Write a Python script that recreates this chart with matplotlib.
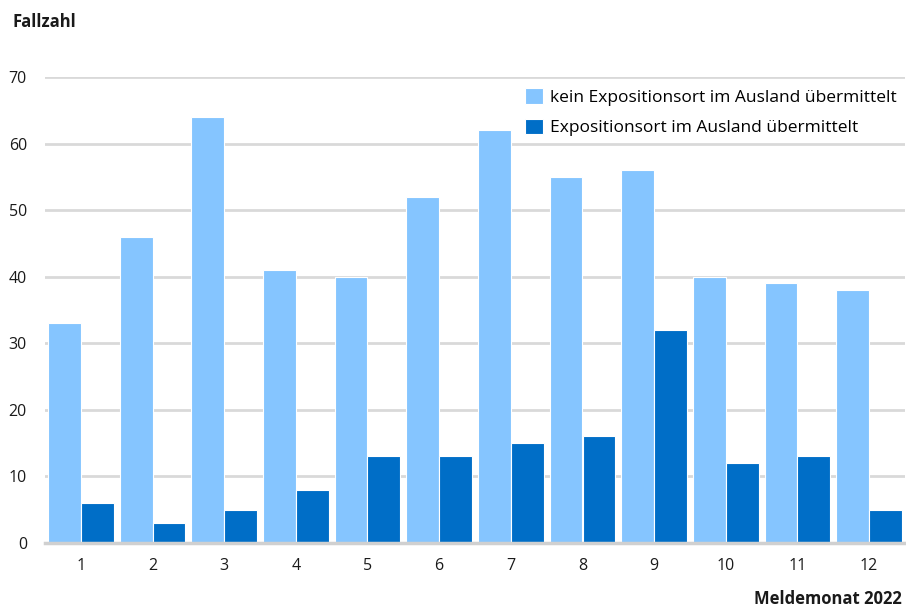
import numpy as np
import matplotlib.pyplot as plt

plt.rcParams['font.family'] = ['Open Sans', 'DejaVu Sans']

# Daten
monate = ['1', '2', '3', '4', '5', '6', '7', '8', '9', '10', '11', '12']
kein_ausland = [33, 46, 64, 41, 40, 52, 62, 55, 56, 40, 39, 38]
ausland = [6, 3, 5, 8, 13, 13, 15, 16, 32, 12, 13, 5]

hell = '#85C5FF'
dunkel = '#006EC7'

fig = plt.figure(figsize=(9.06, 6.10), dpi=100)
ax = fig.add_axes([45 / 906, 67 / 610, 860 / 906, 466 / 610])

x = np.arange(len(monate))
w = 0.46
ax.bar(x - w / 2, kein_ausland, w, color=hell, edgecolor='white', linewidth=0.8,
       label='kein Expositionsort im Ausland übermittelt', zorder=3)
ax.bar(x + w / 2, ausland, w, color=dunkel, edgecolor='white', linewidth=0.8,
       label='Expositionsort im Ausland übermittelt', zorder=3)

ax.set_xlim(-0.5, len(monate) - 0.5)
ax.set_ylim(0, 70)
ax.set_yticks(range(0, 71, 10))
ax.set_xticks(x)
ax.set_xticklabels(monate)

ax.grid(axis='y', color='#d9d9d9', linewidth=2, zorder=0)
ax.set_axisbelow(True)
for s in ['top', 'right', 'left']:
    ax.spines[s].set_visible(False)
ax.spines['bottom'].set_color('#d0d0d0')
ax.spines['bottom'].set_linewidth(2.5)
ax.spines['bottom'].set_zorder(4)
ax.tick_params(length=0, labelsize=11.5, colors='#1a1a1a')
ax.tick_params(axis='y', pad=13)
ax.tick_params(axis='x', pad=11)

fig.text(12 / 906, 1 - 22 / 610, 'Fallzahl', fontsize=12, fontweight='bold',
         ha='left', va='center', color='#1a1a1a')
fig.text(902 / 906, 1 - 599 / 610, 'Meldemonat 2022', fontsize=12, fontweight='bold',
         ha='right', va='center', color='#1a1a1a')

ax.legend(loc='upper right', bbox_to_anchor=(1.0, 0.995), frameon=False, fontsize=12.5,
          handlelength=1.0, handleheight=1.0, handletextpad=0.4, labelspacing=0.75,
          borderaxespad=0.2, borderpad=0.3)

fig.savefig('out.png', dpi=100)
